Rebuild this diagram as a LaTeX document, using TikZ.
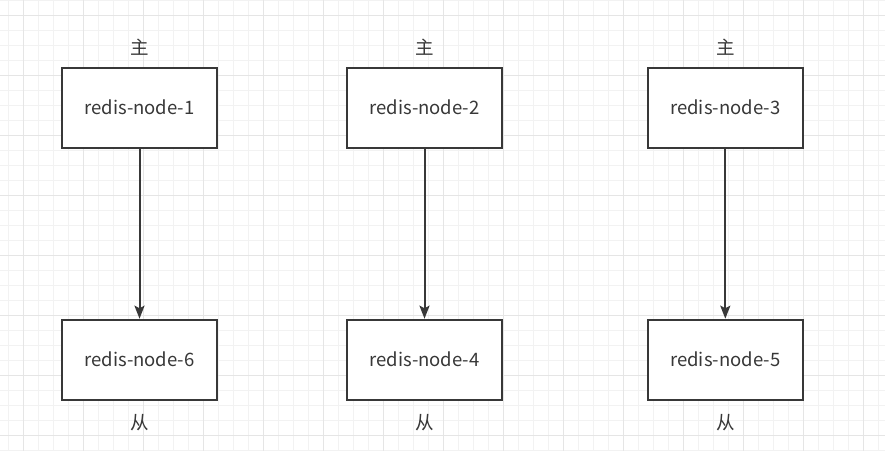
\documentclass[tikz,border=0pt]{standalone}
\usepackage{fontspec}
\setmainfont{Noto Sans CJK SC}
\usetikzlibrary{arrows.meta,positioning}
\definecolor{gridminor}{HTML}{F2F2F2}
\definecolor{gridmajor}{HTML}{E5E5E5}
\definecolor{inkgray}{HTML}{383838}
\begin{document}
\begin{tikzpicture}[x=1pt, y=-1pt,
    redisbox/.style = {shape=rectangle, draw=inkgray, line width=2pt, fill=white,
      minimum width=155pt, minimum height=80pt, inner sep=0pt, text=inkgray,
      font=\fontsize{18.5}{22}\selectfont},
    role/.style = {text=inkgray, inner sep=0pt, font=\fontsize{18.5}{22}\selectfont},
    sync/.style = {draw=inkgray, line width=2pt,
      -{Stealth[length=13pt, width=10pt, inset=2.5pt]}}]
  \useasboundingbox (0,0) rectangle (885,451);
  % grid paper
  \foreach \x in {8,23,...,885} \draw[gridminor, line width=1pt] (\x,0) -- (\x,451);
  \foreach \y in {0,15,...,451} \draw[gridminor, line width=1pt] (0,\y) -- (885,\y);
  \foreach \x in {23,83,...,885} \draw[gridmajor, line width=1pt] (\x,0) -- (\x,451);
  \foreach \y in {15,75,...,451} \draw[gridmajor, line width=1pt] (0,\y) -- (885,\y);
  % masters
  \node[redisbox] (n1) at (139.5,107.7) {redis-node-1};
  \node[redisbox] (n2) at (424.5,107.7) {redis-node-2};
  \node[redisbox] (n3) at (725.3,107.7) {redis-node-3};
  % slaves
  \node[redisbox, below=170pt of n1] (n6) {redis-node-6};
  \node[redisbox, below=170pt of n2] (n4) {redis-node-4};
  \node[redisbox, below=170pt of n3] (n5) {redis-node-5};
  % roles
  \node[role] (m1) at ([yshift=19.5pt]n1.north) {主};
  \node[role] (m2) at ([yshift=19.5pt]n2.north) {主};
  \node[role] (m3) at ([yshift=19.5pt]n3.north) {主};
  \node[role] (s6) at ([yshift=-21.5pt]n6.south) {从};
  \node[role] (s4) at ([yshift=-21.5pt]n4.south) {从};
  \node[role] (s5) at ([yshift=-21.5pt]n5.south) {从};
  \path (n1) edge[sync] (n6);
  \path (n2) edge[sync] (n4);
  \path (n3) edge[sync] (n5);
\end{tikzpicture}
\end{document}
